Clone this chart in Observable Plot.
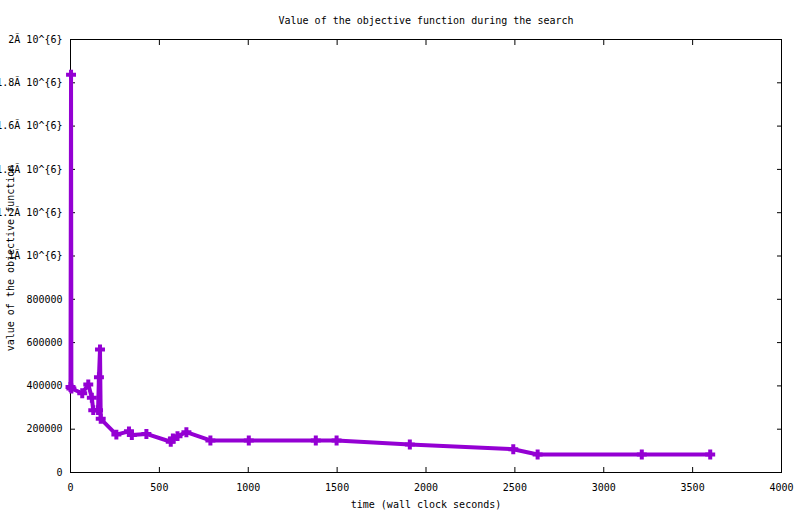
<!DOCTYPE html>
<html>
<head>
<meta charset="utf-8">
<script src="https://cdn.jsdelivr.net/npm/d3@7"></script>
<script src="https://cdn.jsdelivr.net/npm/@observablehq/plot@0.6"></script>
<style>
  html, body { margin: 0; padding: 0; background: white; }
</style>
</head>
<body>
<div id="chart"></div>
<script>
const times  = [0, 3, 5, 66, 100, 120, 128, 155, 160, 166, 170, 258, 329, 345, 427, 564, 576, 602, 652, 787, 1003, 1380, 1497, 1909, 2491, 2628, 3214, 3599];
const values = [395000, 1837000, 388000, 366000, 407000, 345000, 288000, 288000, 440000, 568000, 248000, 175000, 190000, 173000, 178000, 142000, 157000, 168000, 186000, 148000, 148000, 148000, 148000, 129000, 107500, 83000, 83000, 83000];

const xTicks = [0, 500, 1000, 1500, 2000, 2500, 3000, 3500, 4000];
const xTickLabels = ["0", "500", "1000", "1500", "2000", "2500", "3000", "3500", "4000"];
const yTicks = [0, 200000, 400000, 600000, 800000, 1000000, 1200000, 1400000, 1600000, 1800000, 2000000];
const yTickLabels = ["0", "200000", "400000", "600000", "800000", "1Ã 10^{6}", "1.2Ã 10^{6}", "1.4Ã 10^{6}", "1.6Ã 10^{6}", "1.8Ã 10^{6}", "2Ã 10^{6}"];

const title = "Value of the objective function during the search";
const xLabel = "time (wall clock seconds)";
const yLabel = "value of the objective function";

const data = times.map((t, i) => ({t, v: values[i]}));
const color = "#9400d3";

const chart = Plot.plot({
  width: 800,
  height: 514,
  marginLeft: 70,
  marginRight: 19,
  marginTop: 39,
  marginBottom: 42,
  style: {fontFamily: "'DejaVu Sans Mono', monospace", fontSize: "10px", background: "white", color: "black"},
  x: {domain: [0, 4000], label: null},
  y: {domain: [0, 2000000], label: null},
  marks: [
    Plot.frame({stroke: "black"}),
    Plot.axisX(xTicks, {anchor: "bottom", tickSize: -5, tickFormat: () => "", label: null}),
    Plot.axisX(xTicks, {anchor: "top", tickSize: -5, tickFormat: () => "", label: null}),
    Plot.axisX(xTicks, {anchor: "bottom", tickSize: 0, tickPadding: 11, label: null,
      tickFormat: d => xTickLabels[xTicks.indexOf(d)], fontSize: 10}),
    Plot.axisY(yTicks, {anchor: "left", tickSize: -5, tickFormat: () => "", label: null}),
    Plot.axisY(yTicks, {anchor: "right", tickSize: -5, tickFormat: () => "", label: null}),
    Plot.axisY(yTicks, {anchor: "left", tickSize: 0, tickPadding: 8, label: null,
      tickFormat: d => yTickLabels[yTicks.indexOf(d)], fontSize: 10}),
    Plot.line(data, {x: "t", y: "v", stroke: color, strokeWidth: 4, strokeLinejoin: "miter", strokeLinecap: "butt"}),
    Plot.dot(data, {x: "t", y: "v", symbol: "plus", r: 3.3, stroke: color, strokeWidth: 4}),
    Plot.text([title], {text: d => d, frameAnchor: "top", dy: -19, lineAnchor: "middle", fontSize: 10}),
    Plot.text([xLabel], {text: d => d, frameAnchor: "bottom", dy: 32.5, lineAnchor: "middle", fontSize: 10}),
    Plot.text([yLabel], {text: d => d, frameAnchor: "left", dx: -60, dy: 2, rotate: -90, textAnchor: "middle", lineAnchor: "middle", fontSize: 10})
  ]
});
document.getElementById("chart").appendChild(chart);
</script>
</body>
</html>
